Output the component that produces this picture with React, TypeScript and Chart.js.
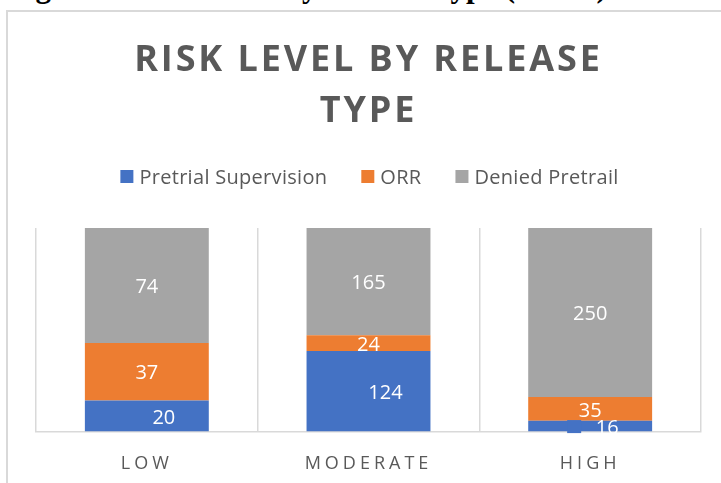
import React, { useEffect, useRef } from "react";
import { Chart, registerables } from "chart.js";

Chart.register(...registerables);

const categories = ["LOW", "MODERATE", "HIGH"];
const pretrialSupervision = [20, 124, 16];
const orr = [37, 24, 35];
const deniedPretrail = [74, 165, 250];
const seriesNames = ["Pretrial Supervision", "ORR", "Denied Pretrail"];
const seriesColors = ["#4472C4", "#ED7D31", "#A5A5A5"];
const titleLines = ["RISK LEVEL BY RELEASE", "TYPE"];
const caption = "Figure 5: Risk Level by Release Type (n=745)";

const rawSeries = [pretrialSupervision, orr, deniedPretrail];
const totals = categories.map((_, i) => rawSeries.reduce((s, arr) => s + arr[i], 0));

const TEXT_GRAY = "#595959";

const overlay = {
  id: "overlay",
  afterDatasetsDraw(chart: any) {
    const ctx = chart.ctx;
    ctx.save();
    ctx.font = "20px 'Open Sans'";
    ctx.fillStyle = "#ffffff";
    ctx.textAlign = "center";
    ctx.textBaseline = "middle";
    chart.data.datasets.forEach((_: any, di: number) => {
      const meta = chart.getDatasetMeta(di);
      meta.data.forEach((el: any, i: number) => {
        const cy = (el.y + el.base) / 2;
        const dx = di === 0 ? 17 : 0;
        if (di === 0 && i === 2) {
          ctx.fillStyle = seriesColors[0];
          ctx.fillRect(el.x - 23, cy - 6, 14, 13);
          ctx.fillStyle = "#ffffff";
        }
        ctx.fillText(String(rawSeries[di][i]), el.x + dx, cy + 2);
      });
    });
    ctx.restore();
  },
  afterDraw(chart: any) {
    const ctx = chart.ctx;
    const area = chart.chartArea;
    const cx = (area.left + area.right) / 2;
    ctx.save();
    // title
    ctx.fillStyle = TEXT_GRAY;
    ctx.textAlign = "center";
    ctx.textBaseline = "alphabetic";
    ctx.font = "bold 36px 'Open Sans'";
    (ctx as any).letterSpacing = "2.9px";
    ctx.fillText(titleLines[0], cx, 71);
    ctx.fillText(titleLines[1], cx, 122);

    // legend
    (ctx as any).letterSpacing = "0.3px";
    ctx.font = "20px 'Open Sans'";
    const box = 13;
    const gapText = 6;
    const gapItem = 34;
    const widths = seriesNames.map((n) => ctx.measureText(n).width);
    const total = widths.reduce((s, w) => s + box + gapText + w, 0) + gapItem * (seriesNames.length - 1);
    let x = cx + 1 - total / 2;
    ctx.textAlign = "left";
    seriesNames.forEach((n, i) => {
      ctx.fillStyle = seriesColors[i];
      ctx.fillRect(x, 170, box, box);
      ctx.fillStyle = TEXT_GRAY;
      ctx.fillText(n, x + box + gapText, 184);
      x += box + gapText + widths[i] + gapItem;
    });

    // x labels
    const xs = chart.scales.x;
    ctx.font = "18px 'Open Sans'";
    (ctx as any).letterSpacing = "4px";
    ctx.textAlign = "center";
    ctx.fillStyle = TEXT_GRAY;
    categories.forEach((c, i) => {
      ctx.fillText(c, xs.getPixelForValue(i), 468.5);
    });
    ctx.restore();
  },
};

export default function App() {
  const ref = useRef<HTMLCanvasElement | null>(null);
  useEffect(() => {
    if (!ref.current) return;
    const chart = new Chart(ref.current, {
      type: "bar",
      data: {
        labels: categories,
        datasets: rawSeries.map((arr, di) => ({
          label: seriesNames[di],
          data: arr.map((v, i) => (v / totals[i]) * 100),
          backgroundColor: seriesColors[di],
          borderWidth: 0,
          categoryPercentage: 1,
          barPercentage: 0.559,
        })),
      },
      options: {
        responsive: false,
        animation: false,
        devicePixelRatio: 1,
        layout: { padding: { left: 36, right: 20, top: 228, bottom: 51.5 } },
        plugins: {
          legend: { display: false },
          title: { display: false },
          tooltip: { enabled: false },
        },
        scales: {
          x: {
            stacked: true,
            ticks: { display: false },
            grid: { color: "#d9d9d9", lineWidth: 1.5, drawTicks: false, offset: true },
            border: { color: "#d9d9d9", width: 1.5 },
          },
          y: { stacked: true, display: false, min: 0, max: 100 },
        },
      },
      plugins: [overlay],
    });
    return () => chart.destroy();
  }, []);

  return (
    <div style={{ position: "fixed", left: 0, top: 0, width: 721, height: 483, overflow: "hidden", background: "#fff" }}>
      <div
        style={{
          position: "absolute",
          left: 8,
          top: -29,
          whiteSpace: "nowrap",
          fontFamily: "'Liberation Serif', 'Times New Roman', serif",
          fontWeight: "bold",
          fontSize: 31,
          lineHeight: "31px",
          color: "#000",
        }}
      >
        {caption}
      </div>
      <div
        style={{
          position: "absolute",
          left: 6,
          top: 10,
          width: 800,
          height: 600,
          border: "2px solid #d9d9d9",
          boxSizing: "border-box",
        }}
      />
      <canvas ref={ref} width={721} height={483} style={{ position: "absolute", left: 0, top: 0 }} />
    </div>
  );
}
